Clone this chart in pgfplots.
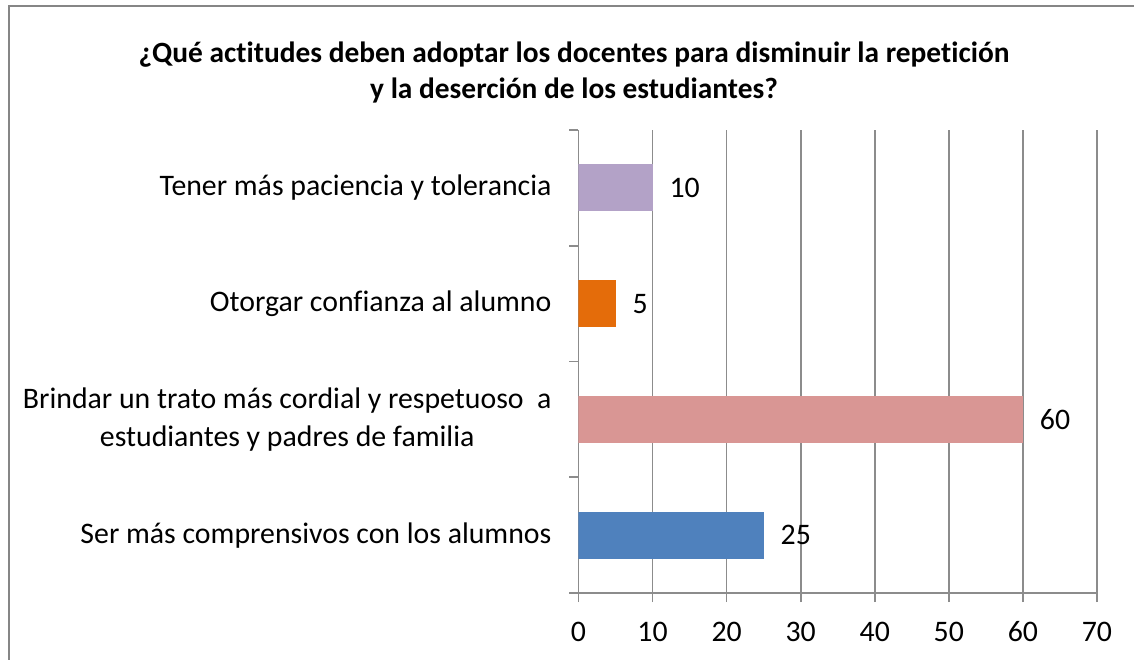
\documentclass[border=0pt]{standalone}
\usepackage{pgfplots}
\pgfplotsset{compat=1.18}
\usepackage{fontspec}
\setmainfont{Carlito}[RawFeature={-liga}]
\definecolor{cblue}{HTML}{4F81BD}
\definecolor{cpink}{HTML}{D99694}
\definecolor{corange}{HTML}{E46C0A}
\definecolor{cpurple}{HTML}{B3A2C7}
\definecolor{cgray}{HTML}{8C8C8C}
\definecolor{fgray}{HTML}{868686}
\begin{document}
\begin{tikzpicture}[x=1pt,y=1pt]
\clip (-289.25,-33) rectangle (277.75,296.5);
\draw[fgray, line width=1pt] (-284.75,-60) rectangle (330,293.5);
\node[font=\bfseries\fontsize{14.7}{18}\selectfont, align=center] at (-2.25,260)
  {¿Qué actitudes deben adoptar los docentes para disminuir la repetición\\y la deserción de los estudiantes?};
\begin{axis}[
  at={(0,0)}, anchor=south west,
  scale only axis, width=259.25pt, height=231.5pt,
  xbar, bar width=23.5pt,
  xmin=0, xmax=70, ymin=-0.5, ymax=3.5,
  axis lines*=left,
  axis line style={cgray, line width=0.8pt},
  tick style={cgray, line width=0.8pt},
  tick align=outside, major tick length=4.5pt,
  xtick={0,10,...,70},
  xmajorgrids, grid style={cgray, line width=0.8pt},
  ytick={-0.5,0.5,1.5,2.5,3.5}, yticklabels={},
  extra y ticks={0,1,2,3},
  extra y tick labels={Ser más comprensivos con los alumnos, {Brindar un trato más cordial y respetuoso\ \ a\\[1.5pt]estudiantes y padres de familia}, Otorgar confianza al alumno, Tener más paciencia y tolerancia},
  extra y tick style={major tick length=0pt, tick style={draw=none}, yticklabel style={align=center, xshift=-10pt, font=\fontsize{14.9}{17.5}\selectfont}},
  tick label style={font=\fontsize{14.9}{17.5}\selectfont, black},
  x tick label style={text height=10pt, text depth=0pt, yshift=-6pt},
  /pgf/number format/assume math mode=true,
  nodes near coords,
  every node near coord/.append style={font=\fontsize{14.9}{17.5}\selectfont, black, anchor=west, xshift=5pt},
]
\addplot[fill=cblue, draw=none, bar shift=0pt] coordinates {(25,0)};
\addplot[fill=cpink, draw=none, bar shift=0pt] coordinates {(60,1)};
\addplot[fill=corange, draw=none, bar shift=0pt] coordinates {(5,2)};
\addplot[fill=cpurple, draw=none, bar shift=0pt] coordinates {(10,3)};
\end{axis}
\end{tikzpicture}
\end{document}
